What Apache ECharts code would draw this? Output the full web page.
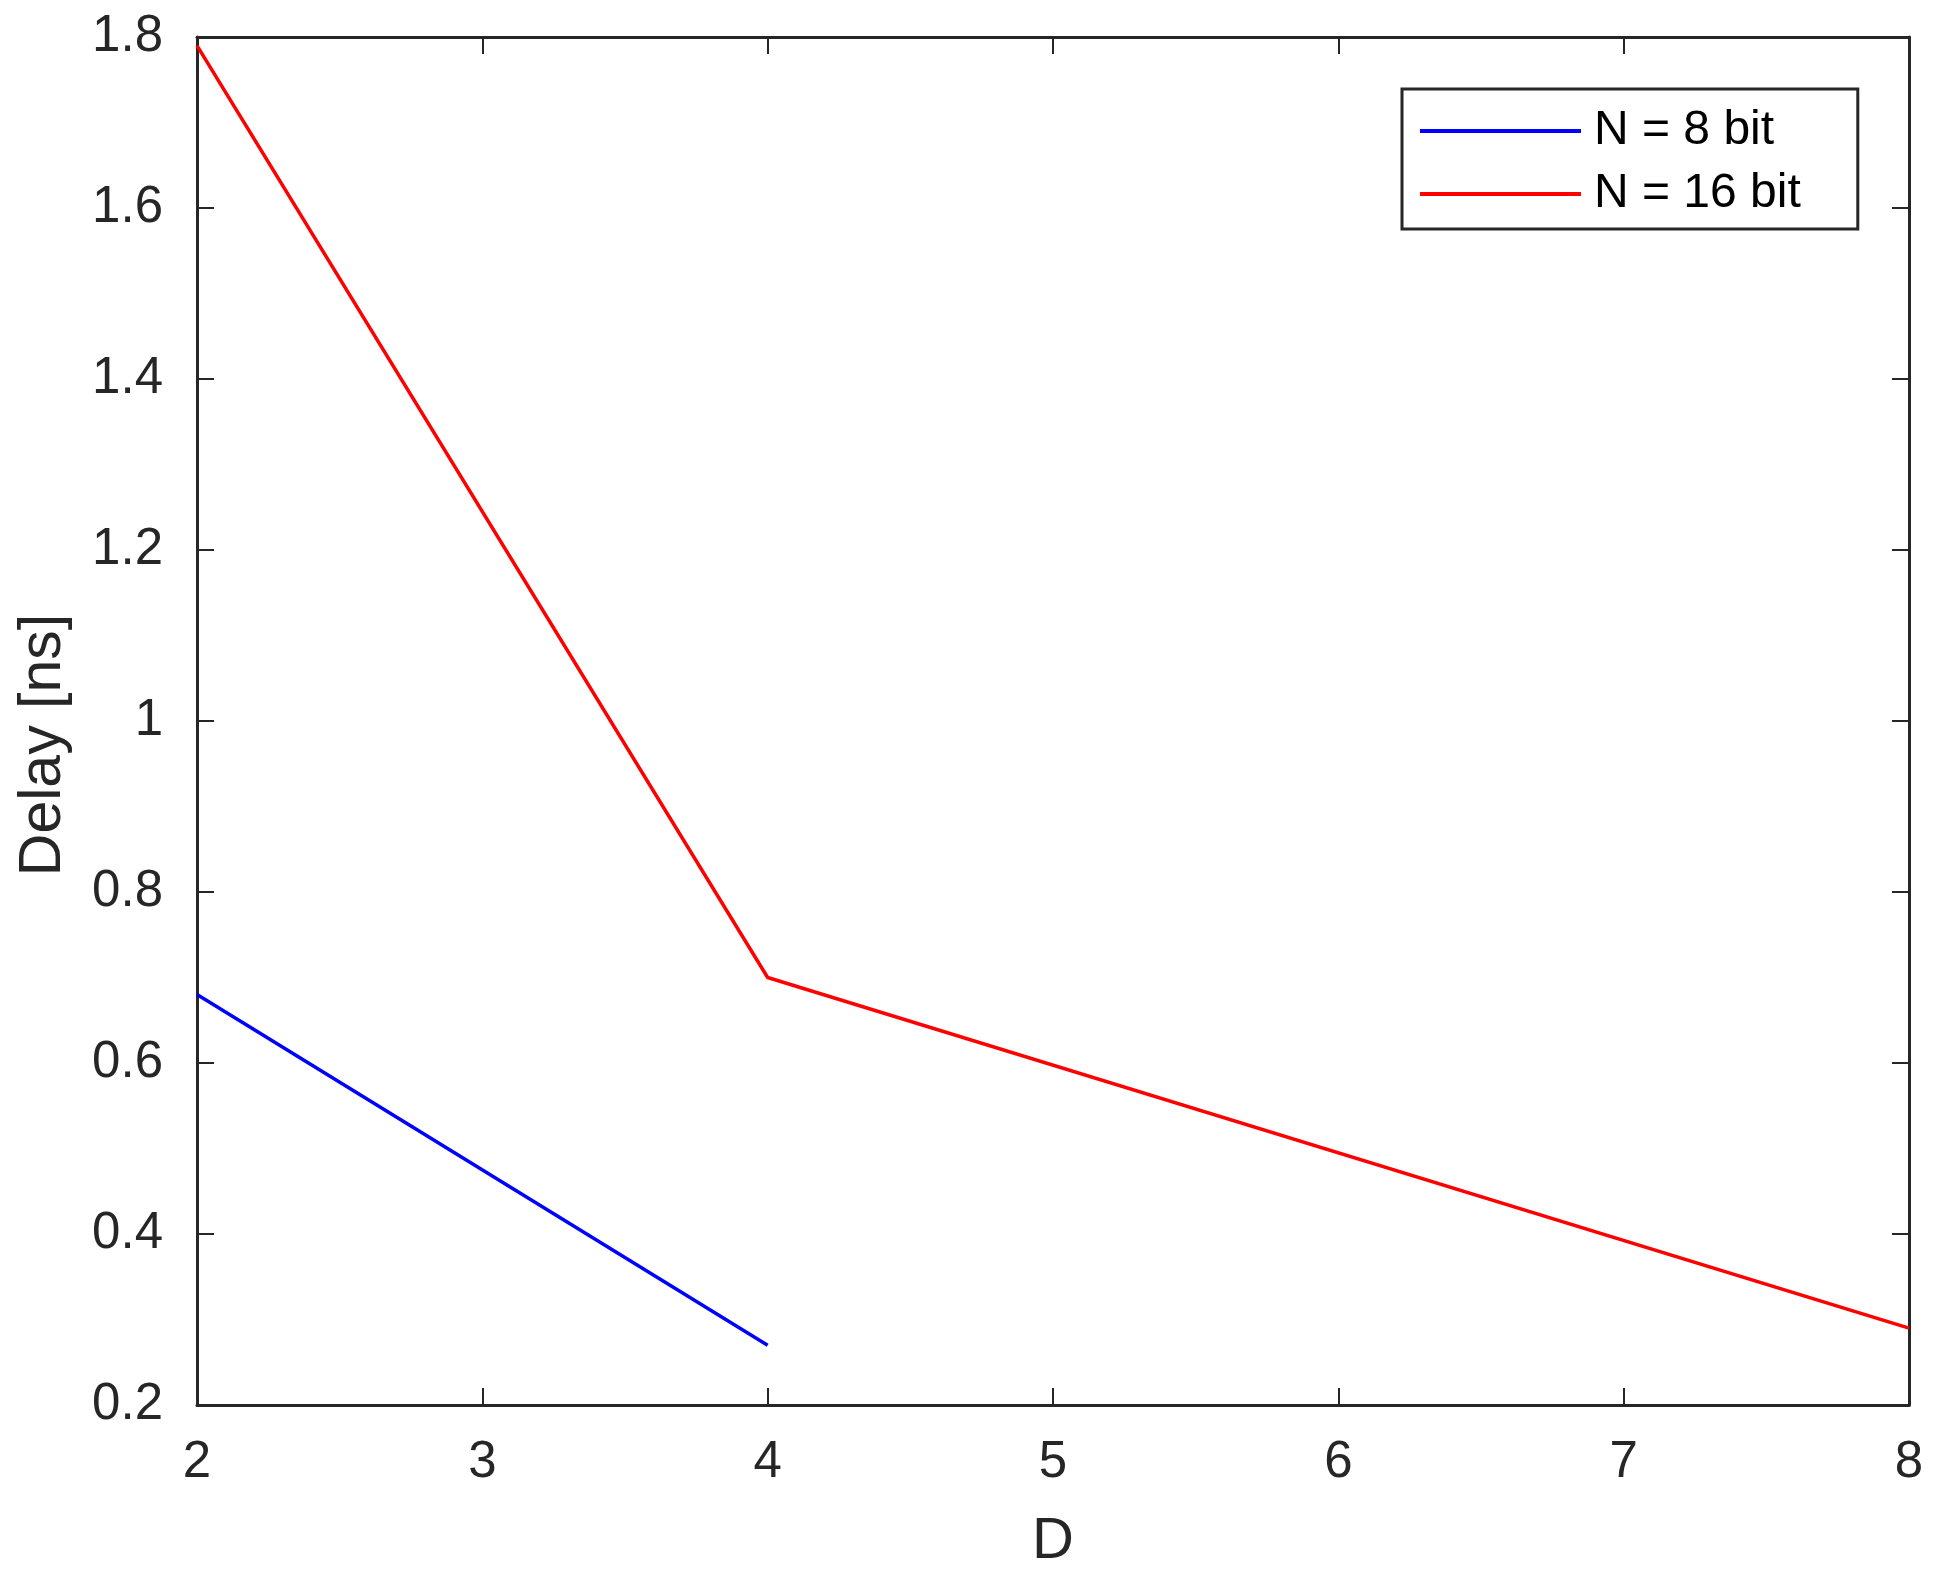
<!DOCTYPE html>
<html>
<head>
<meta charset="utf-8">
<script src="https://cdn.jsdelivr.net/npm/echarts@6/dist/echarts.min.js"></script>
<style>
html,body{margin:0;padding:0;background:#fff;}
#chart{width:1938px;height:1576px;}
</style>
</head>
<body>
<div id="chart"></div>
<script>
const seriesNames = ['N = 8 bit', 'N = 16 bit'];
const dValues8 = [2, 4];
const delay8 = [0.68, 0.27];
const dValues16 = [2, 4, 8];
const delay16 = [1.79, 0.70, 0.29];
const xTitle = 'D';
const yTitle = 'Delay [ns]';

const FONT = 'Liberation Sans, Helvetica, Arial, sans-serif';
const AX = '#262626';

const chart = echarts.init(document.getElementById('chart'), null, {renderer: 'canvas'});

function pairs(xs, ys) { return xs.map((x, i) => [x, ys[i]]); }

const commonX = {
  type: 'value', min: 2, max: 8, interval: 1,
  axisLine: {show: true, onZero: false, lineStyle: {color: AX, width: 3}},
  axisTick: {show: true, inside: true, length: 17, lineStyle: {color: AX, width: 2}},
  splitLine: {show: false}
};
const commonY = {
  type: 'value', min: 0.2, max: 1.8, interval: 0.2,
  axisLine: {show: true, onZero: false, lineStyle: {color: AX, width: 3}},
  axisTick: {show: true, inside: true, length: 17, lineStyle: {color: AX, width: 2}},
  splitLine: {show: false}
};

chart.setOption({
  animation: false,
  backgroundColor: '#fff',
  grid: {left: 197, top: 37, right: 29, bottom: 170, containLabel: false},
  legend: {
    left: 1402, top: 89, orient: 'vertical',
    data: seriesNames,
    itemWidth: 161, itemHeight: 50, itemGap: 13,
    padding: [17, 57, 10, 16],
    borderColor: AX, borderWidth: 3, backgroundColor: '#fff',
    textStyle: {fontFamily: FONT, fontSize: 48, color: '#000', lineHeight: 50, padding: [0,0,0,8]},
    itemStyle: {opacity: 0},
    lineStyle: {width: 4}
  },
  xAxis: [
    Object.assign({}, commonX, {
      position: 'bottom', name: xTitle, nameLocation: 'middle', nameGap: 108,
      nameTextStyle: {fontFamily: FONT, fontSize: 58, color: AX},
      axisLabel: {show: true, margin: 32, fontFamily: FONT, fontSize: 51, color: AX}
    }),
    Object.assign({}, commonX, {position: 'top', axisLabel: {show: false}})
  ],
  yAxis: [
    Object.assign({}, commonY, {
      position: 'left', name: yTitle, nameLocation: 'middle', nameGap: 124,
      nameTextStyle: {fontFamily: FONT, fontSize: 59, color: AX, padding: [0, 48, 0, 0]},
      axisLabel: {show: true, margin: 34, fontFamily: FONT, fontSize: 51, color: AX,
        formatter: v => String(+v.toFixed(1))}
    }),
    Object.assign({}, commonY, {position: 'right', axisLabel: {show: false}})
  ],
  series: [
    {name: seriesNames[0], type: 'line', data: pairs(dValues8, delay8), symbol: 'none', showSymbol: false,
      lineStyle: {color: '#0000ff', width: 3.5}, itemStyle: {color: '#0000ff'}},
    {name: seriesNames[1], type: 'line', data: pairs(dValues16, delay16), symbol: 'none', showSymbol: false,
      lineStyle: {color: '#ff0000', width: 3.5}, itemStyle: {color: '#ff0000'}}
  ]
});
</script>
</body>
</html>
